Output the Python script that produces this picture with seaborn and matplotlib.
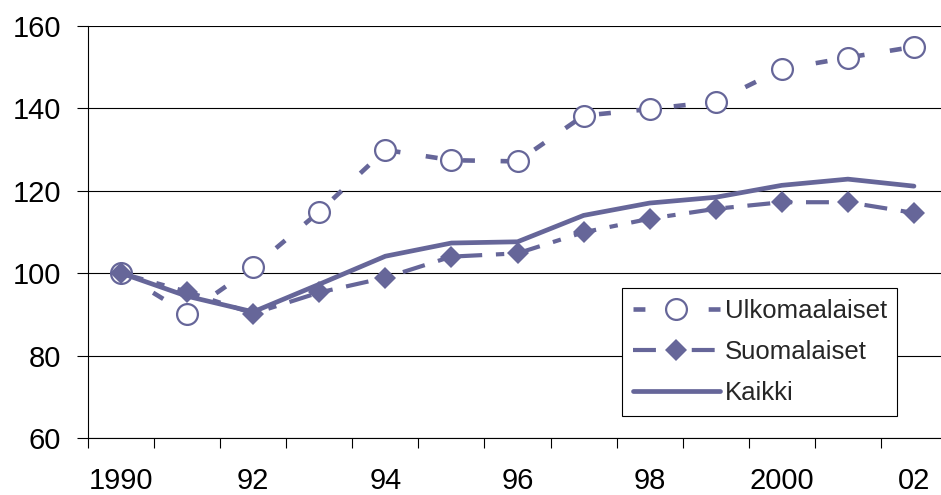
import numpy as np
import pandas as pd
import matplotlib
matplotlib.use("Agg")
import matplotlib.pyplot as plt
import seaborn as sns

years = list(range(1990, 2003))
ulkomaalaiset = [100, 90.2, 101.4, 114.9, 129.9, 127.4, 127.1, 138.2, 139.8, 141.6, 149.5, 152.3, 154.9]
suomalaiset = [100, 95.5, 90.2, 95.3, 98.9, 104.0, 104.8, 109.9, 113.2, 115.6, 117.2, 117.2, 114.6]
kaikki = [100, 94.4, 90.6, 97.3, 104.1, 107.3, 107.6, 114.0, 117.0, 118.4, 121.3, 122.8, 121.1]
series_names = ["Ulkomaalaiset", "Suomalaiset", "Kaikki"]
y_ticks = [60, 80, 100, 120, 140, 160]
x_label_years = [1990, 1992, 1994, 1996, 1998, 2000, 2002]
x_tick_labels = ["1990", "92", "94", "96", "98", "2000", "02"]

sns.set_style("white")
plt.rcParams["font.family"] = ["Liberation Sans", "DejaVu Sans"]

color = "#666699"

df = pd.DataFrame({"year": years,
                   series_names[0]: ulkomaalaiset,
                   series_names[1]: suomalaiset,
                   series_names[2]: kaikki})

fig = plt.figure(figsize=(9.41, 4.95), dpi=100)
ax = fig.add_axes([88 / 941, 57 / 495, 859 / 941, 412.2 / 495])

sns.lineplot(data=df, x="year", y=series_names[0], ax=ax, color=color,
             linewidth=3.3, linestyle=(0, (2.6, 5.6)), marker="o",
             markersize=15, markerfacecolor="white", markeredgecolor=color,
             markeredgewidth=1.6, label=series_names[0], zorder=3)
sns.lineplot(data=df, x="year", y=series_names[1], ax=ax, color=color,
             linewidth=3.0, linestyle=(0, (5.5, 3.3, 2.0, 3.3)), marker="D",
             markersize=11, markerfacecolor=color, markeredgecolor=color,
             markeredgewidth=0, label=series_names[1], zorder=4)
sns.lineplot(data=df, x="year", y=series_names[2], ax=ax, color=color,
             linewidth=3.4, linestyle="-", label=series_names[2], zorder=5)

ax.set_xlim(years[0] - 0.5, years[-1] + 0.5)
ax.set_ylim(y_ticks[0], y_ticks[-1])
ax.set_xlabel("")
ax.set_ylabel("")

ax.set_xticks(np.arange(years[0] - 0.5, years[-1] + 1.0, 1.0))
ax.set_xticklabels([])
ax.set_xticks(x_label_years, minor=True)
ax.set_xticklabels(x_tick_labels, minor=True)
ax.tick_params(axis="x", which="major", length=7.2, width=0.8, color="black",
               direction="out", bottom=True)
ax.tick_params(axis="x", which="minor", length=0, labelsize=21, pad=21,
               labelcolor="black")
ax.set_yticks(y_ticks)
ax.set_yticklabels([str(v) for v in y_ticks])
ax.tick_params(axis="y", which="major", length=8, width=0.8, color="black",
               direction="out", left=True, labelsize=21, pad=11.5,
               labelcolor="black")

ax.yaxis.grid(True, color="black", linewidth=0.8)
ax.xaxis.grid(False)
ax.set_axisbelow(True)

for s in ["top", "right"]:
    ax.spines[s].set_visible(False)
for s in ["left", "bottom"]:
    ax.spines[s].set_color("black")
    ax.spines[s].set_linewidth(0.8)

leg = ax.legend(loc="upper left", bbox_to_anchor=(622 / 941, (495 - 288) / 495),
                bbox_transform=fig.transFigure, fontsize=18.5, frameon=True,
                fancybox=False, framealpha=1, edgecolor="black",
                borderpad=0.42, handlelength=3.4, handletextpad=0.17,
                labelspacing=0.66, borderaxespad=0, numpoints=1)
leg.get_frame().set_linewidth(0.8)
leg.set_zorder(10)

fig.savefig("out.png", dpi=100)
